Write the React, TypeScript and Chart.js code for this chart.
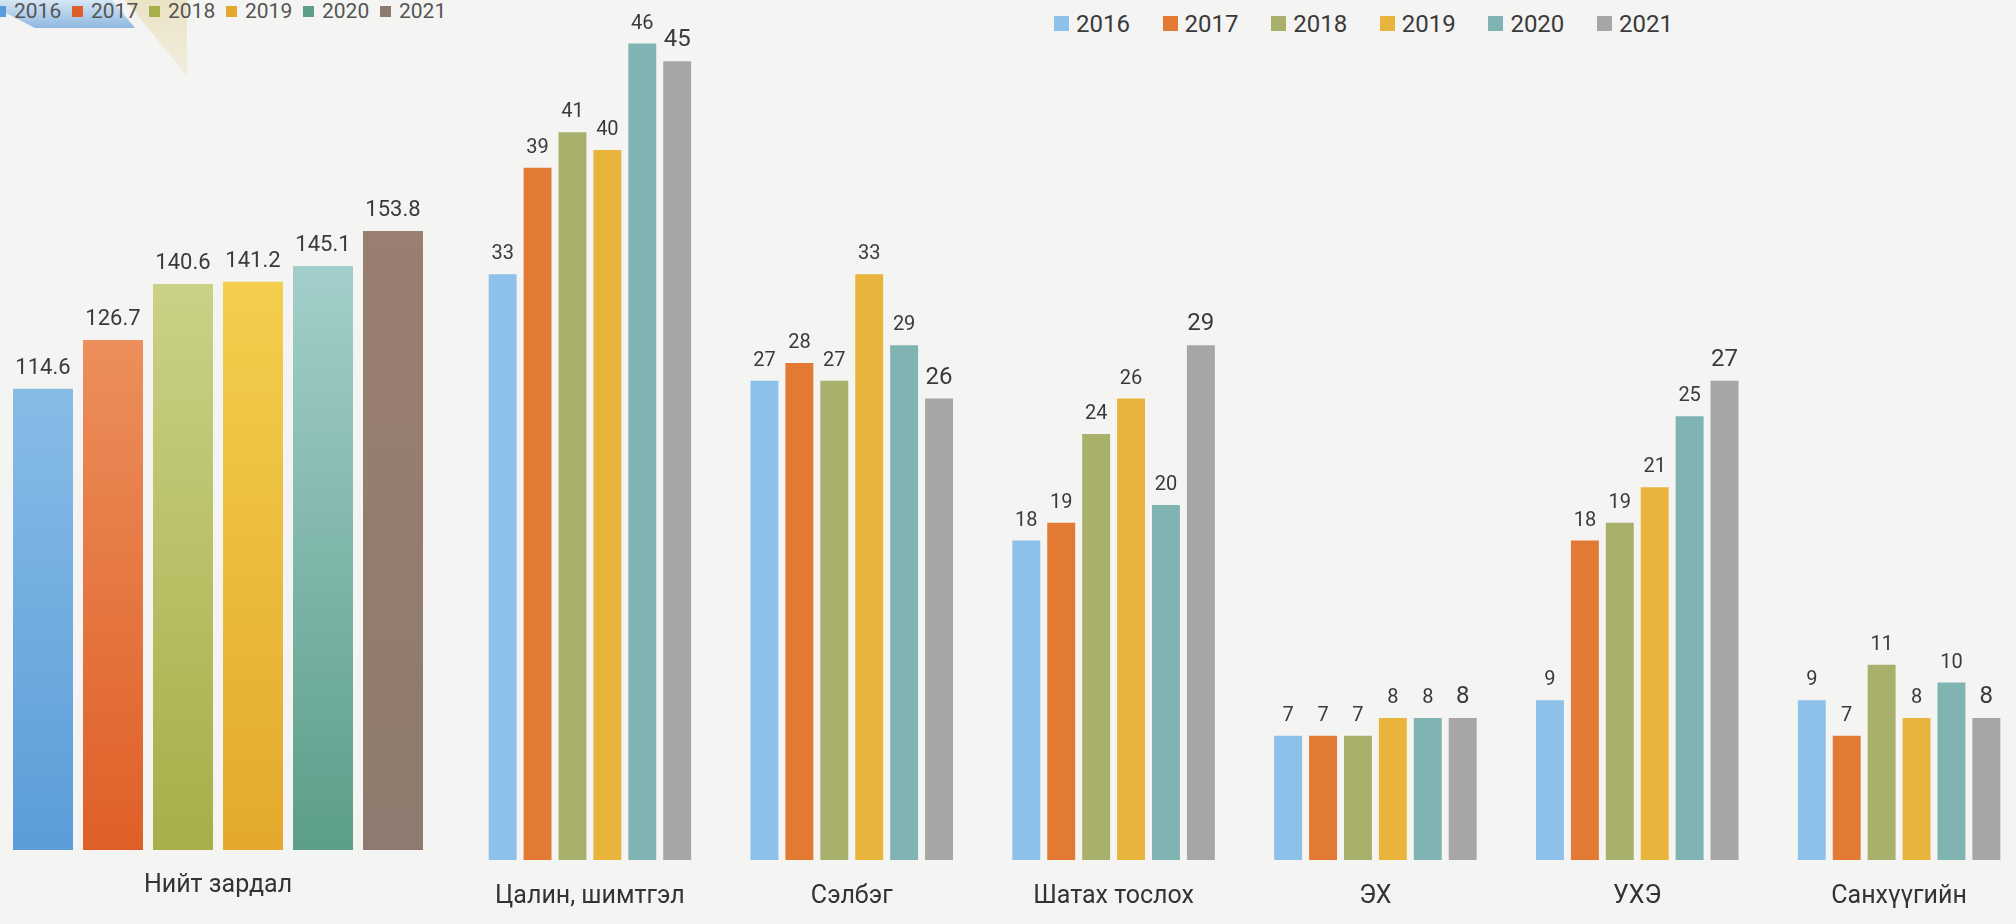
import React, { useEffect, useRef } from "react";
import { Chart, registerables } from "chart.js";

Chart.register(...registerables);

const years = ["2016", "2017", "2018", "2019", "2020", "2021"];

const totalCategory = ["Нийт зардал"];
const totalValues = [114.6, 126.7, 140.6, 141.2, 145.1, 153.8];

const categories = ["Цалин, шимтгэл", "Сэлбэг", "Шатах тослох", "ЭХ", "УХЭ", "Санхүүгийн"];
const v2016 = [33, 27, 18, 7, 9, 9];
const v2017 = [39, 28, 19, 7, 18, 7];
const v2018 = [41, 27, 24, 7, 19, 11];
const v2019 = [40, 33, 26, 8, 21, 8];
const v2020 = [46, 29, 20, 8, 25, 10];
const v2021 = [45, 26, 29, 8, 27, 8];
const seriesValues = [v2016, v2017, v2018, v2019, v2020, v2021];

const leftTop = ["#abd3f1", "#f4aa79", "#d8e09f", "#f9de5a", "#bde1e4", "#9d8072"];
const leftBottom = ["#5a9dd9", "#df5f28", "#a8ae48", "#e4a92c", "#5c9e89", "#8e7a6e"];
const rightColors = ["#8ec1ea", "#e27a34", "#a8b06c", "#e9b43b", "#80b4b2", "#a7a5a5"];

const FONT = "Roboto, 'Open Sans', sans-serif";

function labelPlugin(sizeFor: (di: number) => number, fmt: (v: number) => string, offset: number) {
  return {
    id: "valueLabels",
    afterDatasetsDraw(chart: any) {
      const ctx = chart.ctx;
      chart.data.datasets.forEach((ds: any, di: number) => {
        const meta = chart.getDatasetMeta(di);
        meta.data.forEach((el: any, i: number) => {
          const v = ds.data[i] as number;
          ctx.save();
          ctx.font = `${sizeFor(di)}px ${FONT}`;
          ctx.fillStyle = "#3a3a3a";
          ctx.textAlign = "center";
          ctx.textBaseline = "alphabetic";
          ctx.fillText(fmt(v), el.x, el.y - offset);
          ctx.restore();
        });
      });
    },
  };
}

function LeftChart() {
  const ref = useRef<HTMLCanvasElement>(null);
  useEffect(() => {
    if (!ref.current) return;
    const chart = new Chart(ref.current, {
      type: "bar",
      data: {
        labels: totalCategory,
        datasets: years.map((y, i) => ({
          label: y,
          data: [totalValues[i]],
          backgroundColor: (c: any) => {
            const area = c.chart.chartArea;
            if (!area) return leftBottom[i];
            const el = c.element;
            const top = el && isFinite(el.y) ? el.y : area.top;
            const g = c.chart.ctx.createLinearGradient(0, top, 0, area.bottom);
            g.addColorStop(0, leftTop[i]);
            g.addColorStop(1, leftBottom[i]);
            return g;
          },
          barPercentage: 0.857,
          categoryPercentage: 1,
        })),
      },
      options: {
        responsive: false,
        animation: false,
        layout: { padding: { left: 8, right: 12, top: 45, bottom: 2 } },
        plugins: { legend: { display: false }, tooltip: { enabled: false } },
        scales: {
          x: {
            grid: { display: false, drawTicks: false },
            border: { display: false },
            ticks: { color: "#333", font: { family: FONT, size: 25 }, padding: 21 },
          },
          y: { display: false, min: 0, max: 200 },
        },
      },
      plugins: [labelPlugin(() => 22, (v) => v.toFixed(1), 15)],
    } as any);
    return () => chart.destroy();
  }, []);
  return (
    <canvas
      ref={ref}
      width={440}
      height={924}
      style={{ position: "absolute", left: 0, top: 0, width: 440, height: 924 }}
    />
  );
}

function RightChart() {
  const ref = useRef<HTMLCanvasElement>(null);
  useEffect(() => {
    if (!ref.current) return;
    const chart = new Chart(ref.current, {
      type: "bar",
      data: {
        labels: categories,
        datasets: years.map((y, i) => ({
          label: y,
          data: seriesValues[i],
          backgroundColor: rightColors[i],
          barPercentage: 0.8,
          categoryPercentage: 0.8,
        })),
      },
      options: {
        responsive: false,
        animation: false,
        layout: { padding: { left: 19, right: 10, top: 8, bottom: 15 } },
        plugins: { legend: { display: false }, tooltip: { enabled: false } },
        scales: {
          x: {
            grid: { display: false, drawTicks: false },
            border: { display: false },
            ticks: { color: "#333", font: { family: FONT, size: 25 }, padding: 22, maxRotation: 0, autoSkip: false },
          },
          y: { display: false, min: 0, max: 48 },
        },
      },
      plugins: [labelPlugin((di) => (di === 5 ? 24 : 20), (v) => String(Math.round(v)), 15)],
    } as any);
    return () => chart.destroy();
  }, []);
  return (
    <canvas
      ref={ref}
      width={1600}
      height={949}
      style={{ position: "absolute", left: 440, top: 0, width: 1600, height: 949 }}
    />
  );
}

function LeftLegend() {
  return (
    <>
      {years.map((y, i) => (
        <div key={y}>
          <div
            style={{
              position: "absolute",
              left: -5 + i * 77,
              top: 6,
              width: 11,
              height: 11,
              background: leftBottom[i],
            }}
          />
          <div
            style={{
              position: "absolute",
              left: -5 + i * 77 + 19,
              top: -2,
              font: `21px ${FONT}`,
              color: "#555",
              lineHeight: "26px",
            }}
          >
            {y}
          </div>
        </div>
      ))}
    </>
  );
}

function RightLegend() {
  return (
    <>
      {years.map((y, i) => (
        <div key={y}>
          <div
            style={{
              position: "absolute",
              left: 1054 + i * 108.6,
              top: 16,
              width: 15,
              height: 15,
              background: rightColors[i],
            }}
          />
          <div
            style={{
              position: "absolute",
              left: 1054 + i * 108.6 + 22,
              top: 9,
              font: `24px ${FONT}`,
              color: "#3a3a3a",
              lineHeight: "30px",
            }}
          >
            {y}
          </div>
        </div>
      ))}
    </>
  );
}

export default function App() {
  return (
    <div
      style={{
        position: "fixed",
        left: 0,
        top: 0,
        width: 2016,
        height: 924,
        overflow: "hidden",
        background: "#f4f4f2",
      }}
    >
      <div
        style={{
          position: "absolute",
          left: 0,
          top: 0,
          width: 135,
          height: 28,
          background: "linear-gradient(180deg, #d6e6f4 0%, #8fb8e0 100%)",
          clipPath: "polygon(0 0, 112px 0, 135px 28px, 35px 28px, 0 10px)",
        }}
      />
      <div
        style={{
          position: "absolute",
          left: 125,
          top: 0,
          width: 62,
          height: 76,
          background: "linear-gradient(180deg, #ebe3c6 0%, #f1eedf 100%)",
          clipPath: "polygon(0 0, 62px 0, 62px 76px)",
        }}
      />
      <LeftLegend />
      <RightLegend />
      <LeftChart />
      <RightChart />
    </div>
  );
}
